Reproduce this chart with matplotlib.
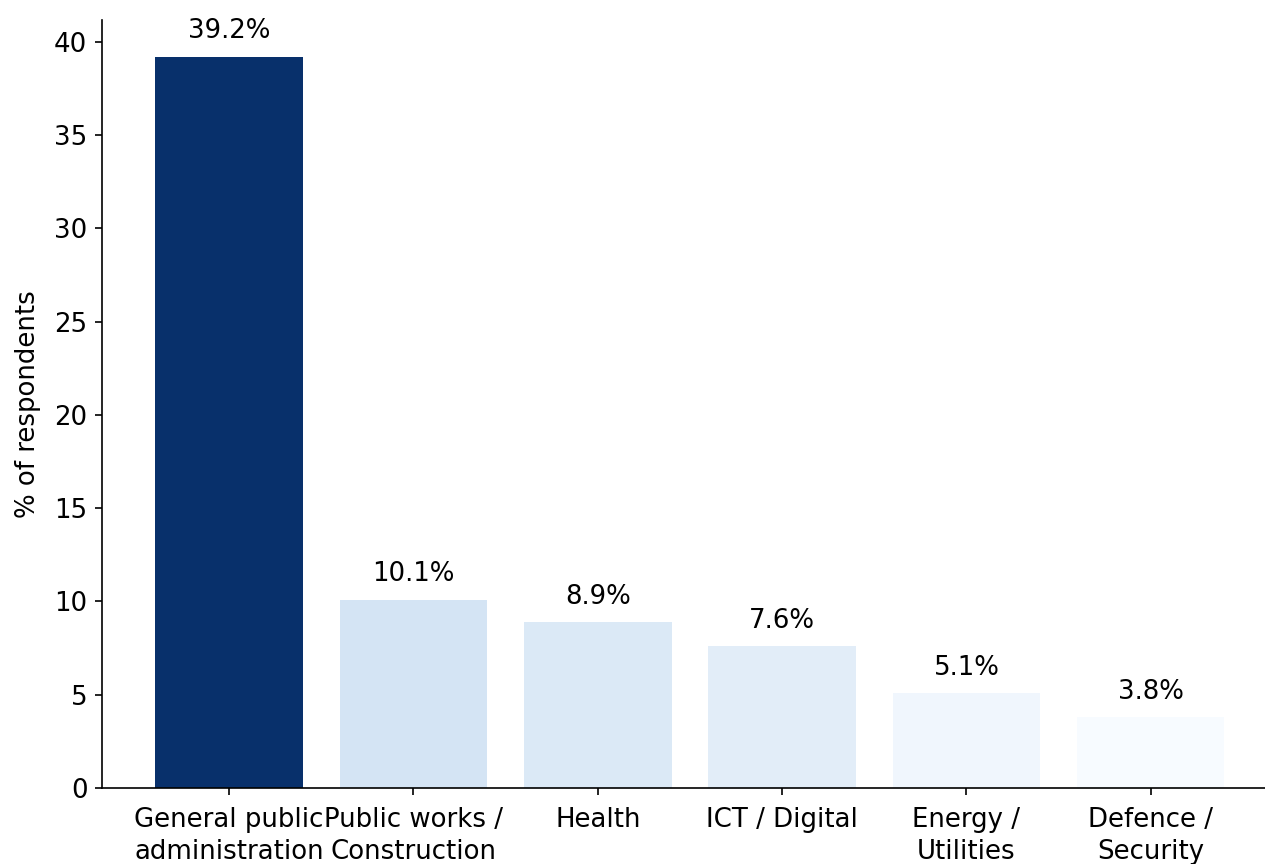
import matplotlib
matplotlib.use("Agg")
import matplotlib.pyplot as plt
import numpy as np

categories = ["General public\nadministration", "Public works /\nConstruction", "Health",
              "ICT / Digital", "Energy /\nUtilities", "Defence /\nSecurity"]
values = [39.2, 10.1, 8.9, 7.6, 5.1, 3.8]

fig = plt.figure(figsize=(1265 / 150, 864 / 150), dpi=150)
ax = fig.add_axes([102 / 1265, 1 - 788 / 864, 1 - 102 / 1265, (788 - 20) / 864])

vals = np.array(values)
norm = plt.Normalize(vals.min(), vals.max())
colors = plt.cm.Blues(norm(vals))
x = np.arange(len(categories))
ax.bar(x, vals, color=colors, width=0.8)
for i, v in enumerate(vals):
    ax.text(i, v + 0.65, f"{v:.1f}%", ha="center", va="bottom", fontsize=12.5)

ax.set_xticks(x)
ax.set_xticklabels(categories, fontsize=12.5, linespacing=1.3)
ax.tick_params(axis="x", pad=5.5)
ax.tick_params(axis="y", labelsize=12.5)
ax.set_ylabel("% of respondents", fontsize=12.5, labelpad=6.5)
ax.set_xlim(-0.69, 5.62)
ax.spines["top"].set_visible(False)
ax.spines["right"].set_visible(False)

fig.savefig("out.png", dpi=150)
